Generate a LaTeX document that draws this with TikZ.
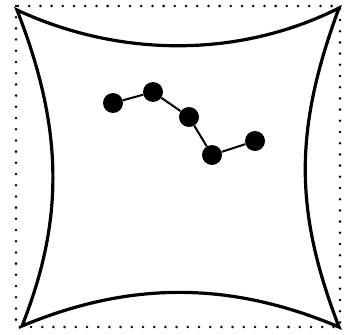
\documentclass[tikz,border=0pt]{standalone}
\begin{document}
\begin{tikzpicture}[x=1pt,y=-1pt,
  frame/.style={line width=2.8pt,line cap=round,dash pattern=on 0pt off 11.2pt},
  edge/.style={line width=3.2pt,line join=miter},
  bead/.style={circle,fill=black,inner sep=0pt,minimum size=20pt},
  link/.style={line width=2pt}]
\useasboundingbox (0,0) rectangle (347,334);
\draw[frame] (16,6) rectangle (340,327);
\coordinate (tl) at (17,10);
\coordinate (tr) at (339,8);
\coordinate (bl) at (22,326);
\coordinate (br) at (339,327);
\draw[edge] (tl) .. controls (120,58) and (240,58) .. (tr)
  .. controls (294,130) and (294,210) .. (br)
  .. controls (230,281) and (130,281) .. (bl)
  .. controls (64,220) and (64,130) .. (tl) -- cycle;
\node[bead] (a) at (113,103) {};
\node[bead] (b) at (153,92) {};
\node[bead] (c) at (189,117) {};
\node[bead] (d) at (212,155) {};
\node[bead] (e) at (255,141) {};
\draw[link] (a) -- (b) -- (c) -- (d) -- (e);
\end{tikzpicture}
\end{document}
